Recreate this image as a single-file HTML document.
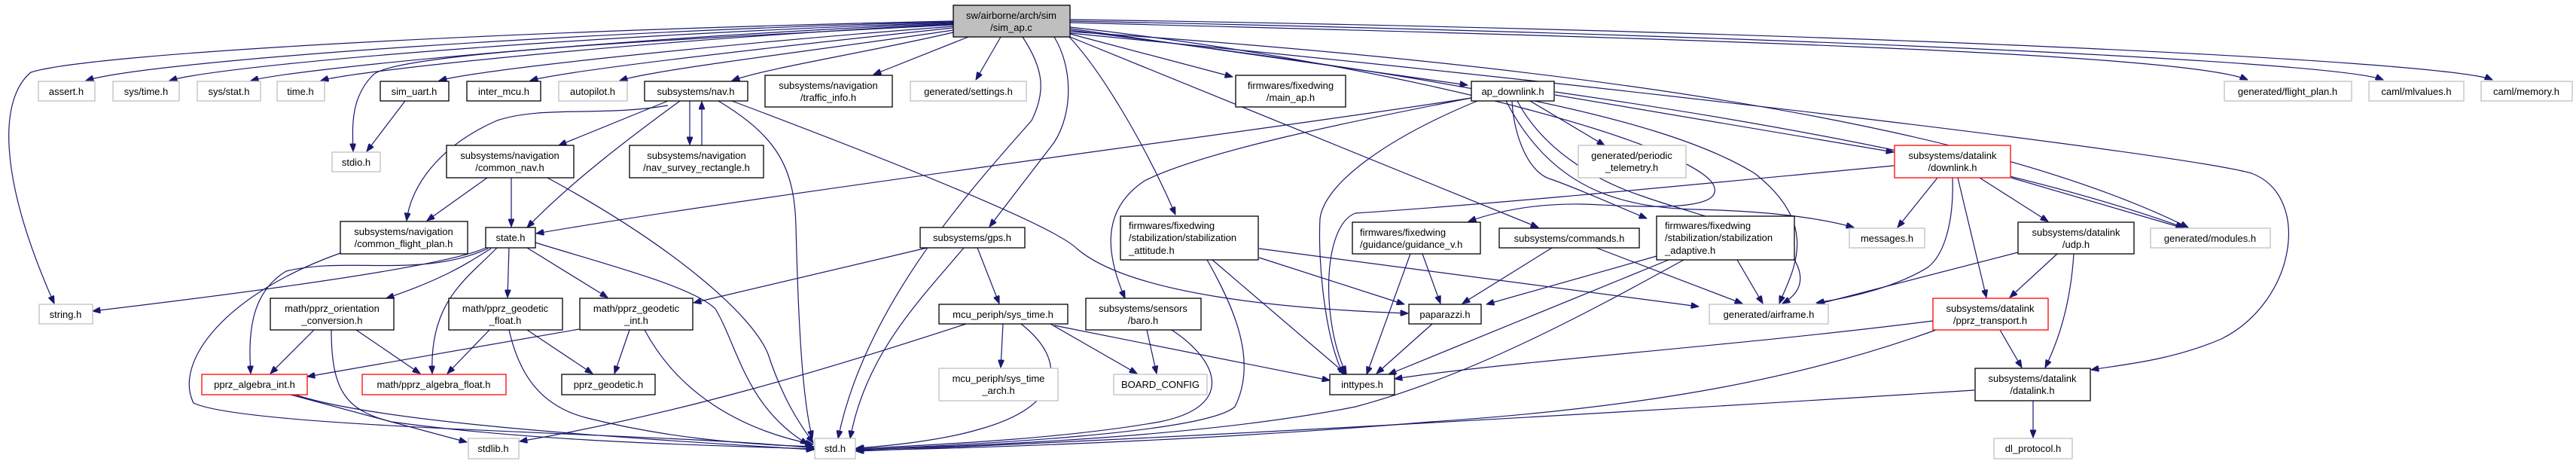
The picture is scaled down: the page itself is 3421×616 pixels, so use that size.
<!DOCTYPE html>
<html><head><meta charset="utf-8"><style>
html,body{margin:0;padding:0;background:#fff;}
svg{display:block;}
text{font-family:"Liberation Sans",sans-serif;font-size:13px;fill:#000;}
.e{fill:none;stroke:#191970;stroke-width:1.2;marker-end:url(#a);}
.n{fill:#fff;stroke:#000;stroke-width:1.3;}
.g{fill:#fff;stroke:#bfbfbf;stroke-width:1.3;}
.r{fill:#fff;stroke:#ff0000;stroke-width:1.3;}
</style></head><body>
<svg width="3421" height="616" viewBox="0 0 3421 616" xmlns="http://www.w3.org/2000/svg">
<defs><marker id="a" viewBox="0 0 10 8" refX="10" refY="4" markerWidth="11" markerHeight="8" markerUnits="userSpaceOnUse" orient="auto"><path d="M0,0 L10,4 L0,8 z" fill="#191970" stroke="#191970"/></marker></defs>
<g>
<path class="e" d="M1266,28 C700,40 120,70 41,96 C0,130 -5,230 72,403"/>
<path class="e" d="M1266,29 C800,40 200,80 114,107"/>
<path class="e" d="M1266,30 C800,45 300,85 225,107"/>
<path class="e" d="M1266,31 C850,48 400,90 333,107"/>
<path class="e" d="M1266,32 C900,50 480,92 426,107"/>
<path class="e" d="M1266,33 C900,52 520,70 495,100 C465,130 468,170 469,201"/>
<path class="e" d="M1266,35 C1000,55 650,90 583,107"/>
<path class="e" d="M1266,37 C1050,60 760,92 704,107"/>
<path class="e" d="M1266,40 C1100,65 870,92 823,107"/>
<path class="e" d="M1266,43 C1150,70 1020,90 972,107"/>
<path class="e" d="M1286,49 L1160,99"/>
<path class="e" d="M1329,49 L1296,106"/>
<path class="e" d="M1400,49 C1425,90 1425,150 1400,189 L1314,301"/>
<path class="e" d="M1358,49 C1385,90 1390,120 1370,160 C1300,240 1150,400 1113,582"/>
<path class="e" d="M1421,45 L1637,102"/>
<path class="e" d="M1421,38 L1949,113"/>
<path class="e" d="M1418,47 C1460,90 1520,190 1561,285"/>
<path class="e" d="M1421,49 L2043,302"/>
<path class="e" d="M1421,36 C1900,90 2270,200 2277,250 C2285,285 2150,272 2100,271 C2040,270 1990,280 1950,294"/>
<path class="e" d="M1421,40 C1900,100 2200,150 2330,230 C2420,300 2380,360 2363,403"/>
<path class="e" d="M1421,30 C2200,50 2900,70 2985,106"/>
<path class="e" d="M1421,28 C2300,45 3100,80 3165,106"/>
<path class="e" d="M1421,26 C2400,40 3250,80 3310,106"/>
<path class="e" d="M1421,42 C2300,100 2700,200 2906,302"/>
<path class="e" d="M1421,44 C2200,120 2900,205 2990,230 C3070,260 3050,400 2950,450 C2880,480 2810,485 2777,491"/>
<path class="e" d="M538,134 L487,201"/>
<path class="e" d="M887,134 L742,193"/>
<path class="e" d="M903,134 C840,180 760,240 700,302"/>
<path class="e" d="M916,134 L916,192"/>
<path class="e" d="M932,193 L932,135"/>
<path class="e" d="M954,134 C1030,180 1055,220 1057,300 C1060,420 1065,530 1079,582"/>
<path class="e" d="M972,134 C1200,220 1400,300 1430,330 C1500,390 1700,410 1870,416"/>
<path class="e" d="M887,140 C800,155 720,140 660,160 C580,195 545,250 540,293"/>
<path class="e" d="M647,236 L567,293"/>
<path class="e" d="M679,236 L679,301"/>
<path class="e" d="M727,236 C900,330 1000,420 1020,470 C1040,530 1060,560 1080,588"/>
<path class="e" d="M1954,130 C1700,170 1000,260 712,310"/>
<path class="e" d="M452,336 C300,390 230,480 257,535 C330,570 900,575 1081,595"/>
<path class="e" d="M645,329 C600,350 400,380 123,413"/>
<path class="e" d="M648,330 C560,370 460,340 380,360 C330,390 330,450 333,496"/>
<path class="e" d="M652,330 C620,350 590,370 513,396"/>
<path class="e" d="M660,329 C620,370 570,400 574,496"/>
<path class="e" d="M676,329 L674,395"/>
<path class="e" d="M700,329 L807,395"/>
<path class="e" d="M711,322 C800,350 920,380 950,410 C980,460 990,540 1073,590"/>
<path class="e" d="M417,438 L359,496"/>
<path class="e" d="M473,438 L558,496"/>
<path class="e" d="M440,438 C440,520 460,545 520,560 C700,585 900,590 1081,596"/>
<path class="e" d="M650,438 L594,496"/>
<path class="e" d="M700,438 L787,496"/>
<path class="e" d="M676,438 C690,500 720,540 780,555 C880,580 980,590 1081,593"/>
<path class="e" d="M769,437 L408,500"/>
<path class="e" d="M836,438 L816,496"/>
<path class="e" d="M856,438 C900,520 980,570 1080,590"/>
<path class="e" d="M386,524 L620,587"/>
<path class="e" d="M392,524 C500,560 800,580 1081,597"/>
<path class="e" d="M1231,329 L921,402"/>
<path class="e" d="M1280,329 C1220,400 1150,470 1129,582"/>
<path class="e" d="M1298,329 L1327,403"/>
<path class="e" d="M1283,430 C1100,490 900,550 690,586"/>
<path class="e" d="M1332,430 L1329,488"/>
<path class="e" d="M1356,430 C1420,480 1410,540 1300,570 C1250,585 1180,592 1137,595"/>
<path class="e" d="M1395,430 L1510,496"/>
<path class="e" d="M1400,432 L1766,505"/>
<path class="e" d="M1523,438 L1536,496"/>
<path class="e" d="M1556,438 C1620,480 1640,540 1540,560 C1400,585 1200,592 1137,596"/>
<path class="e" d="M1603,345 C1640,410 1670,480 1640,540 C1600,575 1300,590 1137,597"/>
<path class="e" d="M1610,345 L1788,497"/>
<path class="e" d="M1672,342 L1865,404"/>
<path class="e" d="M1672,330 C1900,360 2100,385 2256,407"/>
<path class="e" d="M1962,134 C1850,180 1760,240 1753,290 C1750,350 1760,450 1784,497"/>
<path class="e" d="M1954,130 C1800,160 1600,200 1520,240 C1460,280 1470,340 1494,396"/>
<path class="e" d="M2032,134 L2131,193"/>
<path class="e" d="M2008,134 C2010,180 2030,230 2060,238 C2100,252 2150,275 2187,290"/>
<path class="e" d="M2000,134 C2060,250 2150,275 2250,278 C2350,280 2420,290 2462,302"/>
<path class="e" d="M2015,134 C2050,200 2120,240 2180,260 C2250,285 2330,300 2380,340 C2400,370 2390,390 2367,403"/>
<path class="e" d="M2065,126 L2515,202"/>
<path class="e" d="M2065,122 C2400,170 2700,230 2900,302"/>
<path class="e" d="M1873,337 L1815,497"/>
<path class="e" d="M1889,337 L1913,403"/>
<path class="e" d="M2061,329 L1942,403"/>
<path class="e" d="M2120,329 L2314,403"/>
<path class="e" d="M2200,340 L1974,404"/>
<path class="e" d="M2216,345 L1844,497"/>
<path class="e" d="M2236,345 C2100,420 1950,500 1800,540 C1600,580 1300,592 1137,597"/>
<path class="e" d="M2307,345 L2341,403"/>
<path class="e" d="M2573,236 L2520,302"/>
<path class="e" d="M2593,236 C2595,300 2580,340 2560,355 C2520,380 2460,395 2412,402"/>
<path class="e" d="M2600,236 L2638,395"/>
<path class="e" d="M2629,236 L2720,294"/>
<path class="e" d="M2671,236 L2900,303"/>
<path class="e" d="M2515,220 C2300,240 2000,270 1800,283 C1755,300 1755,430 1788,496"/>
<path class="e" d="M2680,335 L2413,404"/>
<path class="e" d="M2732,337 L2669,395"/>
<path class="e" d="M2754,337 C2750,400 2735,450 2716,488"/>
<path class="e" d="M2567,426 C2300,460 2000,480 1852,503"/>
<path class="e" d="M2571,438 C2400,500 2200,540 1900,560 C1600,585 1300,595 1137,598"/>
<path class="e" d="M2656,438 L2685,488"/>
<path class="e" d="M2622,518 C2200,545 1600,580 1137,599"/>
<path class="e" d="M2700,532 L2700,581"/>
<path class="e" d="M1902,430 L1828,496"/>
</g>
<g>
<rect x="1266" y="7" width="155" height="42" fill="#bfbfbf" stroke="#000" stroke-width="1.3"/>
<text x="1343" y="25" text-anchor="middle">sw/airborne/arch/sim</text><text x="1343" y="41" text-anchor="middle">/sim_ap.c</text>
<rect class="g" x="51" y="108" width="75" height="26"/><text x="88" y="126" text-anchor="middle">assert.h</text>
<rect class="g" x="150" y="108" width="88" height="26"/><text x="194" y="126" text-anchor="middle">sys/time.h</text>
<rect class="g" x="262" y="108" width="84" height="26"/><text x="304" y="126" text-anchor="middle">sys/stat.h</text>
<rect class="g" x="368" y="108" width="63" height="26"/><text x="399" y="126" text-anchor="middle">time.h</text>
<rect class="n" x="505" y="108" width="91" height="26"/><text x="550" y="126" text-anchor="middle">sim_uart.h</text>
<rect class="n" x="620" y="108" width="98" height="26"/><text x="669" y="126" text-anchor="middle">inter_mcu.h</text>
<rect class="g" x="742" y="108" width="91" height="26"/><text x="787" y="126" text-anchor="middle">autopilot.h</text>
<rect class="n" x="856" y="108" width="137" height="26"/><text x="924" y="126" text-anchor="middle">subsystems/nav.h</text>
<rect class="n" x="1016" y="100" width="169" height="42"/><text x="1100" y="118" text-anchor="middle">subsystems/navigation</text><text x="1100" y="134" text-anchor="middle">/traffic_info.h</text>
<rect class="g" x="1209" y="108" width="154" height="26"/><text x="1286" y="126" text-anchor="middle">generated/settings.h</text>
<rect class="n" x="1641" y="100" width="146" height="42"/><text x="1714" y="118" text-anchor="middle">firmwares/fixedwing</text><text x="1714" y="134" text-anchor="middle">/main_ap.h</text>
<rect class="n" x="1954" y="108" width="110" height="26"/><text x="2009" y="126" text-anchor="middle">ap_downlink.h</text>
<rect class="g" x="2954" y="108" width="169" height="26"/><text x="3038" y="126" text-anchor="middle">generated/flight_plan.h</text>
<rect class="g" x="3146" y="108" width="126" height="26"/><text x="3209" y="126" text-anchor="middle">caml/mlvalues.h</text>
<rect class="g" x="3295" y="108" width="121" height="26"/><text x="3355" y="126" text-anchor="middle">caml/memory.h</text>
<rect class="g" x="441" y="202" width="64" height="26"/><text x="473" y="220" text-anchor="middle">stdio.h</text>
<rect class="n" x="593" y="193" width="169" height="43"/><text x="677" y="211" text-anchor="middle">subsystems/navigation</text><text x="677" y="227" text-anchor="middle">/common_nav.h</text>
<rect class="n" x="836" y="193" width="178" height="43"/><text x="925" y="211" text-anchor="middle">subsystems/navigation</text><text x="925" y="227" text-anchor="middle">/nav_survey_rectangle.h</text>
<rect class="g" x="2096" y="193" width="143" height="43"/><text x="2167" y="211" text-anchor="middle">generated/periodic</text><text x="2167" y="227" text-anchor="middle">_telemetry.h</text>
<rect class="r" x="2516" y="193" width="154" height="43"/><text x="2593" y="211" text-anchor="middle">subsystems/datalink</text><text x="2593" y="227" text-anchor="middle">/downlink.h</text>
<rect class="n" x="452" y="294" width="169" height="43"/><text x="536" y="312" text-anchor="middle">subsystems/navigation</text><text x="536" y="328" text-anchor="middle">/common_flight_plan.h</text>
<rect class="n" x="645" y="302" width="66" height="27"/><text x="678" y="320" text-anchor="middle">state.h</text>
<rect class="n" x="1222" y="302" width="139" height="27"/><text x="1291" y="320" text-anchor="middle">subsystems/gps.h</text>
<rect class="n" x="1488" y="287" width="183" height="58"/><text x="1499" y="304">firmwares/fixedwing</text><text x="1499" y="320">/stabilization/stabilization</text><text x="1499" y="337">_attitude.h</text>
<rect class="n" x="1796" y="295" width="170" height="42"/><text x="1806" y="313">firmwares/fixedwing</text><text x="1806" y="329">/guidance/guidance_v.h</text>
<rect class="n" x="1991" y="303" width="186" height="26"/><text x="2084" y="321" text-anchor="middle">subsystems/commands.h</text>
<rect class="n" x="2200" y="287" width="183" height="58"/><text x="2211" y="304">firmwares/fixedwing</text><text x="2211" y="320">/stabilization/stabilization</text><text x="2211" y="337">_adaptive.h</text>
<rect class="g" x="2456" y="303" width="100" height="26"/><text x="2506" y="321" text-anchor="middle">messages.h</text>
<rect class="n" x="2680" y="295" width="154" height="42"/><text x="2757" y="313" text-anchor="middle">subsystems/datalink</text><text x="2757" y="329" text-anchor="middle">/udp.h</text>
<rect class="g" x="2856" y="303" width="159" height="26"/><text x="2935" y="321" text-anchor="middle">generated/modules.h</text>
<rect class="g" x="52" y="404" width="71" height="26"/><text x="87" y="422" text-anchor="middle">string.h</text>
<rect class="n" x="359" y="396" width="164" height="42"/><text x="441" y="414" text-anchor="middle">math/pprz_orientation</text><text x="441" y="430" text-anchor="middle">_conversion.h</text>
<rect class="n" x="596" y="396" width="151" height="42"/><text x="671" y="414" text-anchor="middle">math/pprz_geodetic</text><text x="671" y="430" text-anchor="middle">_float.h</text>
<rect class="n" x="770" y="396" width="150" height="42"/><text x="845" y="414" text-anchor="middle">math/pprz_geodetic</text><text x="845" y="430" text-anchor="middle">_int.h</text>
<rect class="n" x="1247" y="404" width="171" height="26"/><text x="1332" y="422" text-anchor="middle">mcu_periph/sys_time.h</text>
<rect class="n" x="1442" y="396" width="153" height="42"/><text x="1518" y="414" text-anchor="middle">subsystems/sensors</text><text x="1518" y="430" text-anchor="middle">/baro.h</text>
<rect class="n" x="1871" y="404" width="96" height="26"/><text x="1919" y="422" text-anchor="middle">paparazzi.h</text>
<rect class="g" x="2270" y="404" width="158" height="26"/><text x="2349" y="422" text-anchor="middle">generated/airframe.h</text>
<rect class="r" x="2567" y="396" width="153" height="42"/><text x="2643" y="414" text-anchor="middle">subsystems/datalink</text><text x="2643" y="430" text-anchor="middle">/pprz_transport.h</text>
<rect class="r" x="268" y="497" width="140" height="27"/><text x="338" y="515" text-anchor="middle">pprz_algebra_int.h</text>
<rect class="r" x="481" y="497" width="191" height="27"/><text x="576" y="515" text-anchor="middle">math/pprz_algebra_float.h</text>
<rect class="n" x="746" y="497" width="124" height="27"/><text x="808" y="515" text-anchor="middle">pprz_geodetic.h</text>
<rect class="g" x="1247" y="489" width="158" height="43"/><text x="1326" y="507" text-anchor="middle">mcu_periph/sys_time</text><text x="1326" y="523" text-anchor="middle">_arch.h</text>
<rect class="g" x="1479" y="497" width="124" height="27"/><text x="1541" y="515" text-anchor="middle">BOARD_CONFIG</text>
<rect class="n" x="1766" y="497" width="86" height="27"/><text x="1809" y="515" text-anchor="middle">inttypes.h</text>
<rect class="n" x="2623" y="489" width="153" height="43"/><text x="2699" y="507" text-anchor="middle">subsystems/datalink</text><text x="2699" y="523" text-anchor="middle">/datalink.h</text>
<rect class="g" x="622" y="582" width="67" height="27"/><text x="655" y="600" text-anchor="middle">stdlib.h</text>
<rect class="g" x="1082" y="582" width="54" height="27"/><text x="1109" y="600" text-anchor="middle">std.h</text>
<rect class="g" x="2648" y="582" width="104" height="27"/><text x="2700" y="600" text-anchor="middle">dl_protocol.h</text>
</g>
</svg>
</body></html>
